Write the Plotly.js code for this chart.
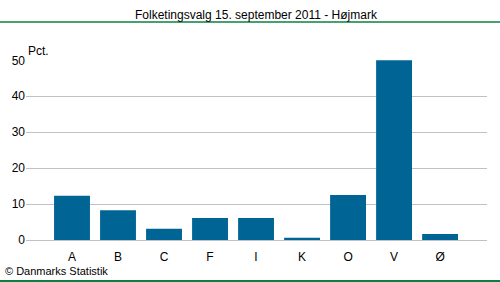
<!DOCTYPE html>
<html>
<head>
<meta charset="utf-8">
<script src="https://cdn.plot.ly/plotly-3.0.1.min.js"></script>
<style>html,body{margin:0;padding:0;background:#fff;}#chart{width:500px;height:282px;}</style>
</head>
<body>
<div id="chart"></div>
<script>
const categories = ["A", "B", "C", "F", "I", "K", "O", "V", "Ø"];
const values = [12.3, 8.3, 3.1, 6.1, 6.1, 0.6, 12.5, 50.0, 1.7];
const yTicks = [0, 10, 20, 30, 40, 50];

const font = "Liberation Sans, Arial, sans-serif";
const trace = {
  type: "bar",
  x: categories.map((c, i) => i),
  y: values,
  width: 0.78,
  marker: {color: "#006595"},
  hoverinfo: "skip"
};
const plotW = 500 - 26 - 13, plotH = 282 - 60 - 42;
const layout = {
  width: 500, height: 282,
  margin: {l: 26, r: 13, t: 60, b: 42, pad: 0},
  paper_bgcolor: "#fff", plot_bgcolor: "#fff",
  showlegend: false,
  font: {family: font, size: 12, color: "#000"},
  xaxis: {
    range: [-1, 9.02],
    tickvals: categories.map((c, i) => i),
    ticktext: categories,
    showgrid: false, zeroline: false, showline: false,
    ticks: "", ticklabelstandoff: 8,
    tickfont: {family: font, size: 12, color: "#000"},
    fixedrange: true
  },
  yaxis: {
    range: [0, 50.1],
    tickvals: yTicks,
    showgrid: true, gridcolor: "#c0c0c8", gridwidth: 1,
    zeroline: true, zerolinecolor: "#c0c0c8", zerolinewidth: 1,
    showline: false, ticks: "", ticklen: 0,
    tickfont: {family: font, size: 12, color: "#000"},
    fixedrange: true
  },
  annotations: [
    {text: "Folketingsvalg 15. september 2011 - Højmark", xref: "paper", yref: "paper",
     x: 0.5, y: 1, xanchor: "center", yanchor: "middle", showarrow: false,
     yshift: 60 - 15, font: {family: font, size: 12, color: "#000"}},
    {text: "Pct.", xref: "paper", yref: "paper", x: 0, y: 1, xanchor: "left", yanchor: "middle",
     showarrow: false, xshift: 0, yshift: 9, font: {family: font, size: 12, color: "#000"}},
    {text: "© Danmarks Statistik", xref: "paper", yref: "paper", x: 0, y: 0, xanchor: "left", yanchor: "middle",
     showarrow: false, xshift: -23, yshift: -31, font: {family: font, size: 11, color: "#000"}}
  ],
  shapes: [
    {type: "line", xref: "paper", yref: "paper",
     x0: -26 / plotW, x1: (500 - 26) / plotW,
     y0: (240 - 22) / plotH, y1: (240 - 22) / plotH,
     line: {color: "#0a8040", width: 1.5}},
    {type: "line", xref: "paper", yref: "paper",
     x0: -26 / plotW, x1: (500 - 26) / plotW,
     y0: (240 - 281) / plotH, y1: (240 - 281) / plotH,
     line: {color: "#0a8040", width: 2}}
  ]
};
Plotly.newPlot("chart", [trace], layout, {displayModeBar: false, staticPlot: true});
</script>
</body>
</html>
